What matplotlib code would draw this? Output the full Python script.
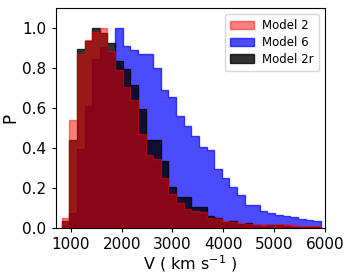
import numpy as np
import matplotlib
matplotlib.use("Agg")
import matplotlib.pyplot as plt

# bin edges (km/s)
bin_edges = np.arange(820, 5921, 150)

model2 = [0.047, 0.537, 0.870, 0.938, 0.980, 1.000, 0.886, 0.791, 0.704, 0.640,
          0.470, 0.365, 0.343, 0.247, 0.167, 0.122, 0.092, 0.085, 0.080, 0.050,
          0.045, 0.035, 0.030, 0.022, 0.020, 0.015, 0.018, 0.012, 0.020, 0.018,
          0.012, 0.010, 0.008, 0.010]

model6 = [0.010, 0.072, 0.393, 0.610, 0.846, 0.903, 0.880, 1.000, 0.908, 0.888,
          0.870, 0.870, 0.800, 0.687, 0.654, 0.557, 0.507, 0.457, 0.403, 0.388,
          0.292, 0.250, 0.203, 0.165, 0.115, 0.115, 0.085, 0.073, 0.065, 0.060,
          0.052, 0.045, 0.037, 0.035]

model2r = [0.035, 0.440, 0.895, 0.933, 1.000, 0.977, 0.923, 0.833, 0.794, 0.716,
           0.594, 0.440, 0.440, 0.334, 0.203, 0.152, 0.152, 0.102, 0.105, 0.057,
           0.050, 0.030, 0.035, 0.020, 0.022, 0.015, 0.010, 0.012, 0.012, 0.008,
           0.006, 0.005, 0.004, 0.004]

labels = ["Model 2", "Model 6", "Model 2r"]

fig = plt.figure(figsize=(3.52, 2.75), dpi=100)
ax = fig.add_axes([0.158, 0.172, 0.765, 0.799])

centers = bin_edges[:-1]
_, _, p6 = ax.hist(centers, bins=bin_edges, weights=model6, histtype="stepfilled",
                   color="blue", edgecolor="blue", alpha=0.7, lw=1.0, label=labels[1])
_, _, p2r = ax.hist(centers, bins=bin_edges, weights=model2r, histtype="stepfilled",
                    color="black", edgecolor="black", alpha=0.8, lw=1.0, label=labels[2])
_, _, p2 = ax.hist(centers, bins=bin_edges, weights=model2, histtype="stepfilled",
                   color="red", edgecolor="red", alpha=0.5, lw=1.0, label=labels[0])

ax.set_xlim(700, 6000)
ax.set_ylim(0, 1.1)
ax.set_xticks([1000, 2000, 3000, 4000, 5000, 6000])
ax.set_yticks([0.0, 0.2, 0.4, 0.6, 0.8, 1.0])
ax.tick_params(labelsize=11, length=3)
ax.set_xlabel(r"V ( km s$^{-1}$ )", fontsize=11.5, labelpad=1)
ax.set_ylabel("P", fontsize=12, labelpad=2)

ax.legend([p2[0], p6[0], p2r[0]], labels, loc="upper right", fontsize=8.5,
          frameon=True, handlelength=2.0, borderpad=0.45, labelspacing=0.32,
          handletextpad=0.7)

fig.savefig("out.png", dpi=100)
